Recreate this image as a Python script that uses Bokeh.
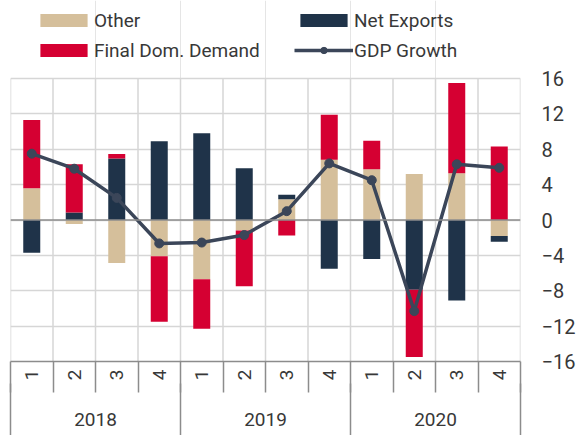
import math
import numpy as np
from bokeh.plotting import figure
from bokeh.models import (Range1d, LinearAxis, FixedTicker, Span, Legend, LegendItem)
from bokeh.embed import file_html
from bokeh.resources import INLINE

quarters = ["1", "2", "3", "4", "1", "2", "3", "4", "1", "2", "3", "4"]
years = ["2018", "2019", "2020"]
other = [3.6, -0.45, -4.85, -4.1, -6.7, -1.2, 2.35, 6.8, 5.75, 5.2, 5.3, -1.8]
net_exports = [-3.7, 0.85, 6.95, 8.9, 9.8, 5.85, 0.5, -5.5, -4.4, -7.9, -9.1, -0.65]
final_dom_demand = [7.7, 5.45, 0.5, -7.4, -5.6, -6.3, -1.75, 5.1, 3.2, -7.6, 10.2, 8.3]
gdp_growth = [7.5, 5.8, 2.5, -2.65, -2.55, -1.7, 1.0, 6.4, 4.5, -10.3, 6.3, 5.9]
y_ticks = [-16, -12, -8, -4, 0, 4, 8, 12, 16]

FONT = "Roboto"
TXT = "#383838"
C_OTHER = "#D5BF9B"
C_NX = "#1F3349"
C_FDD = "#D50032"
C_GDP = "#3B4659"
GRID = "#d6d6d6"
AX = "#8c8c8c"

n = len(quarters)
x = np.arange(n) + 0.5
bounds = np.arange(n + 1)
per_year = n // len(years)
year_centers = [per_year * i + per_year / 2 for i in range(len(years))]
year_bounds = [per_year * i for i in range(len(years) + 1)]

# stacking (positive up, negative down), series order: Other, Net Exports, FDD
pos = np.zeros(n)
neg = np.zeros(n)
stacks = []
for vals in (other, net_exports, final_dom_demand):
    v = np.array(vals, dtype=float)
    bottom = np.where(v >= 0, pos, neg)
    top = bottom + v
    pos = np.where(v >= 0, top, pos)
    neg = np.where(v < 0, top, neg)
    stacks.append((bottom, top))

# layout: the frame runs from the canvas top; the legend sits in the headroom
W, H = 578, 435
BOTTOM = 74          # space for the two x-axis rows
HEADROOM = 78        # pixels above the y=16 line reserved for the legend
frame_h = H - BOTTOM
y_lo, y_hi = y_ticks[0], y_ticks[-1]
y_top = y_hi + HEADROOM * (y_hi - y_lo) / (frame_h - HEADROOM)

p = figure(width=W, height=H, output_backend="svg", toolbar_location=None,
           x_range=Range1d(0, n), y_range=Range1d(y_lo, y_top),
           x_axis_location=None, y_axis_location="right",
           min_border_left=10, min_border_right=55, min_border_top=0, min_border_bottom=BOTTOM)
p.outline_line_color = None
p.background_fill_color = "white"
p.border_fill_color = "white"

# y axis (right)
p.yaxis.ticker = FixedTicker(ticks=y_ticks)
p.yaxis.axis_line_color = None
p.yaxis.major_tick_line_color = None
p.yaxis.minor_tick_line_color = None
p.yaxis.major_tick_out = 0
p.yaxis.major_label_standoff = 21
p.yaxis.major_label_text_font = FONT
p.yaxis.major_label_text_font_size = "20px"
p.yaxis.major_label_text_color = TXT
p.ygrid.grid_line_color = GRID
p.ygrid.grid_line_width = 1.5

# vertical grid lines at category boundaries, limited to the value range
p.segment(x0=bounds, y0=y_lo, x1=bounds, y1=y_hi, line_color=GRID, line_width=1.5)

# bars
rs = []
for (b, t), c in zip(stacks, (C_OTHER, C_NX, C_FDD)):
    rs.append(p.vbar(x=x, bottom=b, top=t, width=0.4, fill_color=c, line_color=None))

p.add_layout(Span(location=0, dimension="width", line_color=AX, line_width=1.5))

lr = p.line(x, gdp_growth, line_color=C_GDP, line_width=3.5)
sr = p.scatter(x, gdp_growth, size=9, fill_color=C_GDP, line_color=C_GDP)

# quarter axis
axA = LinearAxis(ticker=FixedTicker(ticks=list(x), minor_ticks=list(bounds)),
                 major_label_overrides={float(xx): q for xx, q in zip(x, quarters)})
axA.axis_line_color = AX
axA.axis_line_width = 1.5
axA.major_tick_line_color = None
axA.major_tick_out = 0
axA.major_tick_in = 0
axA.minor_tick_out = 31
axA.minor_tick_in = 0
axA.minor_tick_line_color = AX
axA.minor_tick_line_width = 1.5
axA.major_label_orientation = math.pi / 2
axA.major_label_standoff = -23
axA.major_label_text_font = FONT
axA.major_label_text_font_size = "19px"
axA.major_label_text_color = TXT
p.add_layout(axA, "below")

# year axis
axB = LinearAxis(ticker=FixedTicker(ticks=year_centers, minor_ticks=year_bounds),
                 major_label_overrides={float(c): yv for c, yv in zip(year_centers, years)})
axB.axis_line_color = None
axB.major_tick_line_color = None
axB.major_tick_out = 0
axB.major_tick_in = 0
axB.minor_tick_out = 52
axB.minor_tick_in = 0
axB.minor_tick_line_color = AX
axB.minor_tick_line_width = 1.5
axB.major_label_standoff = -23
axB.major_label_text_font = FONT
axB.major_label_text_font_size = "19px"
axB.major_label_text_color = TXT
p.add_layout(axB, "below")

LEG_ROW, LEG_GAP, LEG_TOP = 24, 6, 8
legend = Legend(items=[LegendItem(label="Other", renderers=[rs[0]]),
                       LegendItem(label="Net Exports", renderers=[rs[1]]),
                       LegendItem(label="Final Dom. Demand", renderers=[rs[2]]),
                       LegendItem(label="GDP Growth", renderers=[lr, sr])],
                orientation="horizontal", ncols=2,
                location=(24, frame_h - LEG_TOP - (2 * LEG_ROW + LEG_GAP)),
                padding=0, margin=0, spacing=LEG_GAP,
                glyph_width=59, glyph_height=16, label_width=194, label_height=LEG_ROW,
                label_standoff=1, border_line_color=None, background_fill_alpha=0,
                label_text_font=FONT, label_text_font_size="19px", label_text_color=TXT)
p.add_layout(legend, "center")

open("out.html", "w").write(file_html(p, INLINE))
